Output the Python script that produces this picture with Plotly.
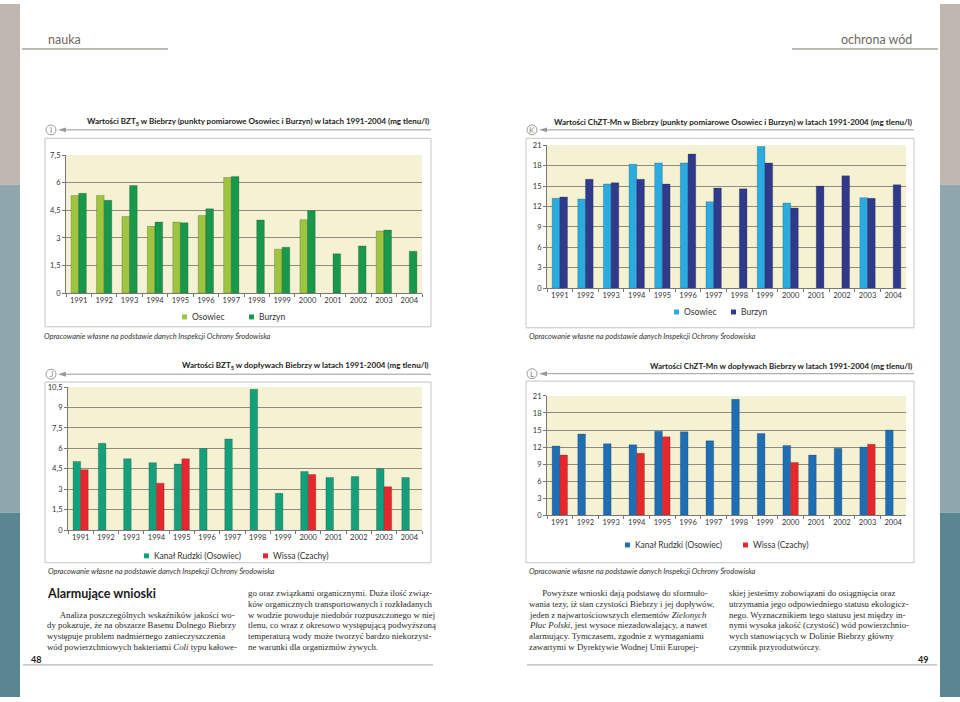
import plotly.graph_objects as go

W, H = 960, 702


def px(x):
    return x / W


def py(y):
    return 1 - y / H


# ---------------- DATA ----------------
years = ["1991", "1992", "1993", "1994", "1995", "1996", "1997",
         "1998", "1999", "2000", "2001", "2002", "2003", "2004"]

# Chart I: BZT5 w Biebrzy (mg tlenu/l)
bzt_osowiec = [5.30, 5.31, 4.16, 3.63, 3.86, 4.22, 6.28, None, 2.39, 3.99, None, None, 3.38, None]
bzt_burzyn = [5.42, 5.04, 5.85, 3.86, 3.82, 4.58, 6.34, 3.97, 2.50, 4.47, 2.14, 2.57, 3.43, 2.28]

# Chart K: ChZT-Mn w Biebrzy (mg tlenu/l)
chzt_osowiec = [13.2, 13.1, 15.3, 18.2, 18.4, 18.4, 12.7, None, 20.8, 12.5, None, None, 13.3, None]
chzt_burzyn = [13.4, 16.0, 15.5, 16.0, 15.3, 19.7, 14.7, 14.6, 18.4, 11.8, 15.0, 16.5, 13.2, 15.2]

# Chart J: BZT5 w doplywach Biebrzy (mg tlenu/l)
bzt_kanal = [5.04, 6.37, 5.24, 4.95, 4.85, 5.99, 6.69, 10.33, 2.70, 4.30, 3.86, 3.93, 4.51, 3.86]
bzt_wissa = [4.44, None, None, 3.45, 5.24, None, None, None, None, 4.08, None, None, 3.19, None]

# Chart L: ChZT-Mn w doplywach Biebrzy (mg tlenu/l)
chzt_kanal = [12.2, 14.3, 12.6, 12.4, 14.8, 14.7, 13.1, 20.4, 14.4, 12.3, 10.6, 11.8, 12.0, 15.0]
chzt_wissa = [10.6, None, None, 10.9, 13.8, None, None, None, None, 9.3, None, None, 12.5, None]

ticks_bzt_i = [0, 1.5, 3, 4.5, 6, 7.5]
ticklabels_bzt_i = ["0", "1,5", "3", "4,5", "6", "7,5"]
ticks_bzt_j = [0, 1.5, 3, 4.5, 6, 7.5, 9, 10.5]
ticklabels_bzt_j = ["0", "1,5", "3", "4,5", "6", "7,5", "9", "10,5"]
ticks_chzt = [0, 3, 6, 9, 12, 15, 18, 21]
ticklabels_chzt = ["0", "3", "6", "9", "12", "15", "18", "21"]

source_text = "Opracowanie własne na podstawie danych Inspekcji Ochrony Środowiska"

charts = [
    dict(letter="I",
         title="Wartości BZT<sub>5</sub> w Biebrzy (punkty pomiarowe Osowiec i Burzyn) w latach 1991-2004 (mg tlenu/l)",
         series=[("Osowiec", bzt_osowiec, "#9dc53f"), ("Burzyn", bzt_burzyn, "#17984b")],
         ticks=ticks_bzt_i, ticklabels=ticklabels_bzt_i, ymax=7.5,
         xd=(66, 422), yd=(153, 293), box=(45, 136, 431, 327),
         circle=(51, 127.5), title_y=119.5, arrow_y=127.5,
         legend=[(182, 317), (249, 317)], source=(42, 337)),
    dict(letter="K",
         title="Wartości ChZT-Mn w Biebrzy (punkty pomiarowe Osowiec i Burzyn) w latach 1991-2004 (mg tlenu/l)",
         series=[("Osowiec", chzt_osowiec, "#2aace2"), ("Burzyn", chzt_burzyn, "#2f3a8d")],
         ticks=ticks_chzt, ticklabels=ticklabels_chzt, ymax=21,
         xd=(547, 906), yd=(143, 288), box=(526, 136, 914, 328),
         circle=(532, 127.5), title_y=119.5, arrow_y=127.5,
         legend=[(674, 312), (731, 312)], source=(527, 337)),
    dict(letter="J",
         title="Wartości BZT<sub>5</sub> w dopływach Biebrzy w latach 1991-2004 (mg tlenu/l)",
         series=[("Kanał Rudzki (Osowiec)", bzt_kanal, "#15a07c"), ("Wissa (Czachy)", bzt_wissa, "#e8272c")],
         ticks=ticks_bzt_j, ticklabels=ticklabels_bzt_j, ymax=10.5,
         xd=(68, 422), yd=(388, 533), box=(45, 383, 431, 566),
         circle=(51, 375), title_y=366.5, arrow_y=375,
         legend=[(144, 559), (263, 559)], source=(46, 575)),
    dict(letter="L",
         title="Wartości ChZT-Mn w dopływach Biebrzy w latach 1991-2004 (mg tlenu/l)",
         series=[("Kanał Rudzki (Osowiec)", chzt_kanal, "#1f6db4"), ("Wissa (Czachy)", chzt_wissa, "#e8272c")],
         ticks=ticks_chzt, ticklabels=ticklabels_chzt, ymax=21,
         xd=(547, 906), yd=(397, 518), box=(526, 382, 914, 566),
         circle=(532, 374.5), title_y=366.5, arrow_y=374.5,
         legend=[(625, 548), (743, 548)], source=(527, 575)),
]

col1_heading = "Alarmujące wnioski"
col1_lines = [
    "      Analiza poszczególnych wskaźników jakości wo-",
    "dy pokazuje, że na obszarze Basenu Dolnego Biebrzy",
    "występuje problem nadmiernego zanieczyszczenia",
    "wód powierzchniowych bakteriami <i>Coli</i> typu kałowe-",
]
col2_lines = [
    "go oraz związkami organicznymi. Duża ilość związ-",
    "ków organicznych transportowanych i rozkładanych",
    "w wodzie powoduje niedobór rozpuszczonego w niej",
    "tlenu, co wraz z okresowo występującą podwyższoną",
    "temperaturą wody może tworzyć bardzo niekorzyst-",
    "ne warunki dla organizmów żywych.",
]
col3_lines = [
    "      Powyższe wnioski dają podstawę do sformuło-",
    "wania tezy, iż stan czystości Biebrzy i jej dopływów,",
    "jeden z najwartościowszych elementów <i>Zielonych</i>",
    "<i>Płuc Polski</i>, jest wysoce niezadowalający, a nawet",
    "alarmujący. Tymczasem, zgodnie z wymaganiami",
    "zawartymi w Dyrektywie Wodnej Unii Europej-",
]
col4_lines = [
    "skiej jesteśmy zobowiązani do osiągnięcia oraz",
    "utrzymania jego odpowiedniego statusu ekologicz-",
    "nego. Wyznacznikiem tego statusu jest między in-",
    "nymi wysoka jakość (czystość) wód powierzchnio-",
    "wych stanowiących w Dolinie Biebrzy główny",
    "czynnik przyrodotwórczy.",
]

# ---------------- FIGURE ----------------
SANS = "Lato, 'Open Sans', sans-serif"
SERIF = "'Liberation Serif', 'DejaVu Serif', serif"

fig = go.Figure()
shapes = []
annotations = []
layout_axes = {}

for i, ch in enumerate(charts):
    n = "" if i == 0 else str(i + 1)
    for name, vals, color in ch["series"]:
        fig.add_trace(go.Bar(
            x=years, y=vals, name=name,
            marker=dict(color=color, line=dict(color="rgba(30,30,30,0.45)", width=0.5)),
            xaxis="x" + n, yaxis="y" + n, showlegend=False,
            hovertemplate=name + " %{x}: %{y}<extra></extra>",
        ))
    x0, x1 = ch["xd"]
    y0, y1 = ch["yd"]
    layout_axes["xaxis" + n] = dict(
        domain=[px(x0), px(x1)], anchor="y" + n, type="category",
        tickson="boundaries", ticks="outside", ticklen=3, tickcolor="#777",
        showline=True, linecolor="#777", linewidth=1, showgrid=False,
        tickangle=0,
        tickfont=dict(family=SANS, size=7.5, color="#333"), fixedrange=True,
    )
    layout_axes["yaxis" + n] = dict(
        domain=[py(y1), py(y0)], anchor="x" + n, range=[0, ch["ymax"]],
        tickvals=ch["ticks"], ticktext=ch["ticklabels"],
        ticks="outside", ticklen=3, tickcolor="#777",
        showline=True, linecolor="#777", linewidth=1,
        gridcolor="#8f8d80", gridwidth=1, zeroline=False,
        tickfont=dict(family=SANS, size=7.5, color="#333"), fixedrange=True,
    )
    # box
    bx0, by0, bx1, by1 = ch["box"]
    shapes.append(dict(type="rect", xref="paper", yref="paper",
                       x0=px(bx0), x1=px(bx1), y0=py(by1), y1=py(by0),
                       line=dict(color="#c4c4c4", width=1), layer="below"))
    # circle marker
    cx, cy = ch["circle"]
    shapes.append(dict(type="circle", xref="paper", yref="paper",
                       x0=px(cx - 5), x1=px(cx + 5), y0=py(cy + 5), y1=py(cy - 5),
                       line=dict(color="#9a9a9a", width=1), fillcolor="white"))
    annotations.append(dict(text=ch["letter"], x=px(cx), y=py(cy), xref="paper", yref="paper",
                            showarrow=False, xanchor="center", yanchor="middle",
                            font=dict(family=SANS, size=8, color="#888")))
    # arrow line with arrowhead pointing at the circle
    ay_ = ch["arrow_y"]
    tip = cx + 7
    shapes.append(dict(type="line", xref="paper", yref="paper",
                       x0=px(tip + 4), x1=px(bx1), y0=py(ay_), y1=py(ay_),
                       line=dict(color="#9a9a9a", width=1)))
    shapes.append(dict(type="path", xref="paper", yref="paper",
                       path=f"M {px(tip)},{py(ay_)} L {px(tip + 8)},{py(ay_ - 2.5)} "
                            f"L {px(tip + 8)},{py(ay_ + 2.5)} Z",
                       fillcolor="#9a9a9a", line=dict(width=0)))
    # title
    annotations.append(dict(text="<b>" + ch["title"] + "</b>", x=px(bx1), y=py(ch["title_y"]),
                            xref="paper", yref="paper", showarrow=False,
                            xanchor="right", yanchor="middle",
                            font=dict(family=SANS, size=8, color="#222")))
    # legend
    for (lx, ly), (name, vals, color) in zip(ch["legend"], ch["series"]):
        shapes.append(dict(type="rect", xref="paper", yref="paper",
                           x0=px(lx), x1=px(lx + 5), y0=py(ly + 2.5), y1=py(ly - 2.5),
                           fillcolor=color, line=dict(width=0)))
        annotations.append(dict(text=name, x=px(lx + 8), y=py(ly), xref="paper", yref="paper",
                                showarrow=False, xanchor="left", yanchor="middle",
                                font=dict(family=SANS, size=8.5, color="#333")))
    # source
    sx, sy = ch["source"]
    annotations.append(dict(text="<i>" + source_text + "</i>", x=px(sx), y=py(sy),
                            xref="paper", yref="paper", showarrow=False,
                            xanchor="left", yanchor="middle",
                            font=dict(family=SANS, size=7.5, color="#333")))

# side bars
for bx0, bx1 in [(0, 20), (940, 960)]:
    for (t, b, col) in [(0, 183, "#bfb7b0"), (183, 515, "#8fa6ad"), (515, 702, "#5a8691")]:
        shapes.append(dict(type="rect", xref="paper", yref="paper",
                           x0=px(bx0), x1=px(bx1), y0=py(b), y1=py(t),
                           fillcolor=col, line=dict(width=0), layer="below"))

# header
annotations.append(dict(text="nauka", x=px(46), y=py(36), xref="paper", yref="paper",
                        showarrow=False, xanchor="left", yanchor="middle",
                        font=dict(family=SANS, size=12.5, color="#6f6862")))
annotations.append(dict(text="ochrona wód", x=px(914), y=py(36), xref="paper", yref="paper",
                        showarrow=False, xanchor="right", yanchor="middle",
                        font=dict(family=SANS, size=12.5, color="#6f6862")))
for lx0, lx1 in [(22, 168), (792, 938)]:
    shapes.append(dict(type="line", xref="paper", yref="paper",
                       x0=px(lx0), x1=px(lx1), y0=py(45.5), y1=py(45.5),
                       line=dict(color="#a8a39e", width=1.5)))

# body text
LS = 10.8
TOP = 597
annotations.append(dict(text="<b>" + col1_heading + "</b>", x=px(45), y=py(TOP), xref="paper", yref="paper",
                        showarrow=False, xanchor="left", yanchor="middle",
                        font=dict(family=SANS, size=12.5, color="#1a1a1a")))
columns = [(45, col1_lines, 2), (246, col2_lines, 0), (527, col3_lines, 0), (727, col4_lines, 0)]
for cx, lines, start in columns:
    for k, line in enumerate(lines):
        annotations.append(dict(text=line, x=px(cx), y=py(TOP + (k + start) * LS),
                                xref="paper", yref="paper", showarrow=False,
                                xanchor="left", yanchor="middle",
                                font=dict(family=SERIF, size=8.8, color="#2a2a2a")))

# page numbers & footer lines
annotations.append(dict(text="<b>48</b>", x=px(29), y=py(664), xref="paper", yref="paper",
                        showarrow=False, xanchor="left", yanchor="middle",
                        font=dict(family=SANS, size=9, color="#222")))
annotations.append(dict(text="<b>49</b>", x=px(930), y=py(664), xref="paper", yref="paper",
                        showarrow=False, xanchor="right", yanchor="middle",
                        font=dict(family=SANS, size=9, color="#222")))
for lx0, lx1 in [(23, 433), (527, 937)]:
    shapes.append(dict(type="line", xref="paper", yref="paper",
                       x0=px(lx0), x1=px(lx1), y0=py(669.5), y1=py(669.5),
                       line=dict(color="#a5a5a5", width=1)))

fig.update_layout(
    width=W, height=H,
    margin=dict(l=0, r=0, t=0, b=0),
    paper_bgcolor="white",
    plot_bgcolor="#f4f2d3",
    barmode="group", bargap=0.4, bargroupgap=0,
    shapes=shapes, annotations=annotations,
    showlegend=False,
    font=dict(family=SANS),
    **layout_axes,
)

fig.write_html(
    "out.html",
    config={"displayModeBar": False},
    post_script="document.body.style.margin='0';document.body.style.overflow='hidden';",
)
